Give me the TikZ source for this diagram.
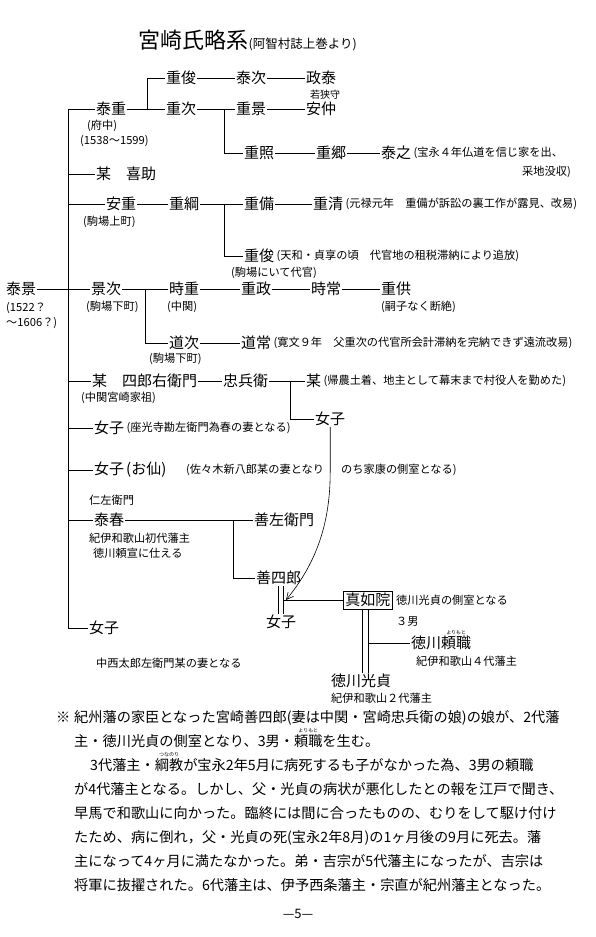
\documentclass[tikz,border=0pt]{standalone}
\usepackage{fontspec}
\setmainfont{Noto Sans CJK JP}
\usetikzlibrary{arrows.meta}
\newsavebox\rubybox
\newcommand{\myruby}[2]{\leavevmode\sbox\rubybox{#1}\rlap{\raisebox{0.95em}[0pt][0pt]{\makebox[\wd\rubybox]{\fontsize{5}{5}\selectfont #2}}}\usebox\rubybox}
\tikzset{
  nm/.style={font=\fontsize{15}{15}\selectfont, inner sep=1pt, anchor=west},
  sm/.style={font=\fontsize{11.2}{12}\selectfont, inner sep=1pt, anchor=west},
  smr/.style={font=\fontsize{11.2}{12}\selectfont, inner sep=1pt, anchor=east},
  para/.style={font=\fontsize{14.2}{15}\selectfont, inner sep=0pt, anchor=base west},
  ln/.style={line width=0.6pt},
}
\begin{document}
\begin{tikzpicture}[x=1pt,y=-1pt]
\fill[white] (0,0) rectangle (595,937);
\useasboundingbox (0,0) rectangle (595,937);

% title
\node[font=\fontsize{22}{22}\selectfont, inner sep=0pt, anchor=base west] (title) at (138,48) {宮崎氏略系};
\node[font=\fontsize{12.5}{13}\selectfont, inner sep=0pt, anchor=base west] (titlesub) at (title.base east) {(阿智村誌上巻より)};

% row 78
\node[nm] (A1) at (165,78) {重俊};
\node[nm] (A2) at (235,78) {泰次};
\node[nm] (A3) at (305,78) {政泰};
\node[sm, font=\fontsize{10}{10}\selectfont] (A3n) at (309,95) {若狭守};
% row 109
\node[nm] (B0) at (95,109) {泰重};
\node[nm] (B1) at (165,109) {重次};
\node[nm] (B2) at (235,109) {重景};
\node[nm] (B3) at (305,109) {安仲};
\node[sm] (B0n) at (86,126) {(府中)};
\node[sm] (B0m) at (79,141) {(1538〜1599)};
% row 152
\node[nm] (C1) at (243,153) {重照};
\node[nm] (C2) at (315,153) {重郷};
\node[nm] (C3) at (380,153) {泰之};
\node[sm] (C3n) at (C3.east) {(宝永４年仏道を信じ家を出、};
\node[smr] (C3m) at (572,172) {采地没収)};
% row 173
\node[nm] (D) at (95,174) {某　喜助};
% row 204
\node[nm] (E0) at (105,204) {安重};
\node[nm] (E1) at (168,204) {重綱};
\node[nm] (E2) at (243,204) {重備};
\node[nm] (E3) at (312,204) {重清};
\node[sm] (E3n) at (E3.east) {(元禄元年　重備が訴訟の裏工作が露見、改易)};
\node[sm] (E0n) at (82,222) {(駒場上町)};
% row 256
\node[nm] (F1) at (243,256) {重俊};
\node[sm] (F1n) at (F1.east) {(天和・貞享の頃　代官地の租税滞納により追放)};
\node[sm] (F1m) at (230,273) {(駒場にいて代官)};
% row 289
\node[nm] (G00) at (5,289) {泰景};
\node[nm] (G0) at (90,289) {景次};
\node[nm] (G1) at (168,289) {時重};
\node[nm] (G2) at (240,289) {重政};
\node[nm] (G3) at (310,289) {時常};
\node[nm] (G4) at (380,289) {重供};
\node[sm] (G00n) at (5,308) {(1522？};
\node[sm] (G00m) at (5,323) {〜1606？)};
\node[sm] (G0n) at (85,307) {(駒場下町)};
\node[sm] (G1n) at (166,307) {(中関)};
\node[sm] (G4n) at (380,307) {(嗣子なく断絶)};
% row 343
\node[nm] (H1) at (168,343) {道次};
\node[nm] (H2) at (240,343) {道常};
\node[sm] (H2n) at (H2.east) {(寛文９年　父重次の代官所会計滞納を完納できず遠流改易)};
\node[sm] (H1n) at (148,359) {(駒場下町)};
% row 381
\node[nm] (I0) at (91,381) {某　四郎右衛門};
\node[nm] (I1) at (222,381) {忠兵衛};
\node[nm] (I2) at (305,381) {某};
\node[sm] (I2n) at (I2.east) {(帰農土着、地主として幕末まで村役人を勤めた)};
\node[sm] (I0n) at (80,398) {(中関宮崎家祖)};
% row 419
\node[nm] (J) at (314,419) {女子};
% row 428
\node[nm] (K) at (93,428) {女子};
\node[sm] (Kn) at (K.east) {(座光寺勘左衛門為春の妻となる)};
% row 470
\node[nm] (L) at (93,470) {女子\hspace{2pt}(お仙)};
\node[sm] (Ln) at (185,470) {(佐々木新八郎某の妻となり};
\node[sm] (Lm) at (340,470) {のち家康の側室となる)};
% row 520
\node[sm] (M0u) at (88,500) {仁左衛門};
\node[nm] (M0) at (93,520) {泰春};
\node[nm] (M1) at (253,520) {善左衛門};
\node[sm] (M0n) at (88,538) {紀伊和歌山初代藩主};
\node[sm] (M0m) at (92,553) {徳川頼宣に仕える};
% row 578
\node[nm] (N1) at (255,578) {善四郎};
\node[nm, draw, line width=0.6pt, inner sep=2pt] (N2) at (343,600) {真如院};
\node[sm] (N2n) at (395,600) {徳川光貞の側室となる};
\node[nm] (N3) at (265,622) {女子};
\node[sm] (S3) at (395,622) {３男};
\node[nm] (O1) at (410,643) {徳川\myruby{頼職}{よりもと}};
\node[sm] (O1n) at (415,661) {紀伊和歌山４代藩主};
\node[nm] (O2) at (330,681) {徳川光貞};
\node[sm] (O2n) at (330,698) {紀伊和歌山２代藩主};
% last daughter
\node[nm] (P) at (88,628) {女子};
\node[sm] (Pn) at (95,663) {中西太郎左衛門某の妻となる};

% ---- connectors ----
\coordinate (tk) at (68,0);
\draw[ln] (tk |- B0.west) -- (tk |- P.west);
\foreach \n in {B0,D,E0,I0,K,L,M0,P} \draw[ln] (tk |- \n.west) -- (\n.west);
\draw[ln] (G00.east) -- (G0.west);

\coordinate (v1) at (147,0);
\draw[ln] (B0.east) -- (B1.west);
\draw[ln] (v1 |- B1.west) -- (v1 |- A1.west) -- (A1.west);
\draw[ln] (A1.east) -- (A2.west);
\draw[ln] (A2.east) -- (A3.west);
\draw[ln] (B1.east) -- (B2.west);
\draw[ln] (B2.east) -- (B3.west);

\coordinate (v2) at (224,0);
\draw[ln] (v2 |- B2.west) -- (v2 |- C1.west) -- (C1.west);
\draw[ln] (C1.east) -- (C2.west);
\draw[ln] (C2.east) -- (C3.west);

\draw[ln] (E0.east) -- (E1.west);
\draw[ln] (E1.east) -- (E2.west);
\draw[ln] (E2.east) -- (E3.west);
\draw[ln] (v2 |- E2.west) -- (v2 |- F1.west) -- (F1.west);

\coordinate (v4) at (145,0);
\draw[ln] (G0.east) -- (G1.west);
\draw[ln] (G1.east) -- (G2.west);
\draw[ln] (G2.east) -- (G3.west);
\draw[ln] (G3.east) -- (G4.west);
\draw[ln] (v4 |- G1.west) -- (v4 |- H1.west) -- (H1.west);
\draw[ln] (H1.east) -- (H2.west);

\coordinate (v5) at (290,0);
\draw[ln] (I0.east) -- (I1.west);
\draw[ln] (I1.east) -- (I2.west);
\draw[ln] (v5 |- I2.west) -- (v5 |- J.west) -- (J.west);

\coordinate (v6) at (233,0);
\draw[ln] (M0.east) -- (M1.west);
\draw[ln] (v6 |- M1.west) -- (v6 |- N1.west) -- (N1.west);

\coordinate (d1) at (278,0);
\coordinate (d2) at (283,0);
\draw[ln] (d1 |- N1.south) -- (d1 |- N3.north);
\draw[ln] (d2 |- N1.south) -- (d2 |- N3.north);
\draw[ln] (d2 |- N2.west) -- (N2.west);

\coordinate (e1) at (362,0);
\coordinate (e2) at (368,0);
\draw[ln] (e1 |- N2.south) -- (e1 |- O2.north);
\draw[ln] (e2 |- N2.south) -- (e2 |- O2.north);
\draw[ln] (e2 |- O1.west) -- (O1.west);

\coordinate (tip) at (286,600);
\draw[ln, -{Straight Barb[length=7pt,width=7pt]}] (J.south) -- ++(0,45) .. controls +(0,55) and (314,566) .. (tip);

% ---- notes ----
\node[para] (ast) at (56,722) {※};
\node[para] (p1) at (74,722) {紀州藩の家臣となった宮崎善四郎(妻は中関・宮崎忠兵衛の娘)の娘が、2代藩};
\node[para] (p2) at (74,746) {主・徳川光貞の側室となり、3男・\myruby{頼職}{よりもと}を生む。};
\node[para] (p3) at (90,770) {3代藩主・\myruby{綱教}{つなのり}が宝永2年5月に病死するも子がなかった為、3男の頼職};
\node[para] (p4) at (74,794) {が4代藩主となる。しかし、父・光貞の病状が悪化したとの報を江戸で聞き、};
\node[para] (p5) at (74,818) {早馬で和歌山に向かった。臨終には間に合ったものの、むりをして駆け付け};
\node[para] (p6) at (74,842) {たため、病に倒れ，父・光貞の死(宝永2年8月)の1ヶ月後の9月に死去。藩};
\node[para] (p7) at (74,866) {主になって4ヶ月に満たなかった。弟・吉宗が5代藩主になったが、吉宗は};
\node[para] (p8) at (74,890) {将軍に抜擢された。6代藩主は、伊予西条藩主・宗直が紀州藩主となった。};
\node[font=\fontsize{13}{13}\selectfont, inner sep=0pt] (pg) at (298,914) {—5—};
\end{tikzpicture}
\end{document}
